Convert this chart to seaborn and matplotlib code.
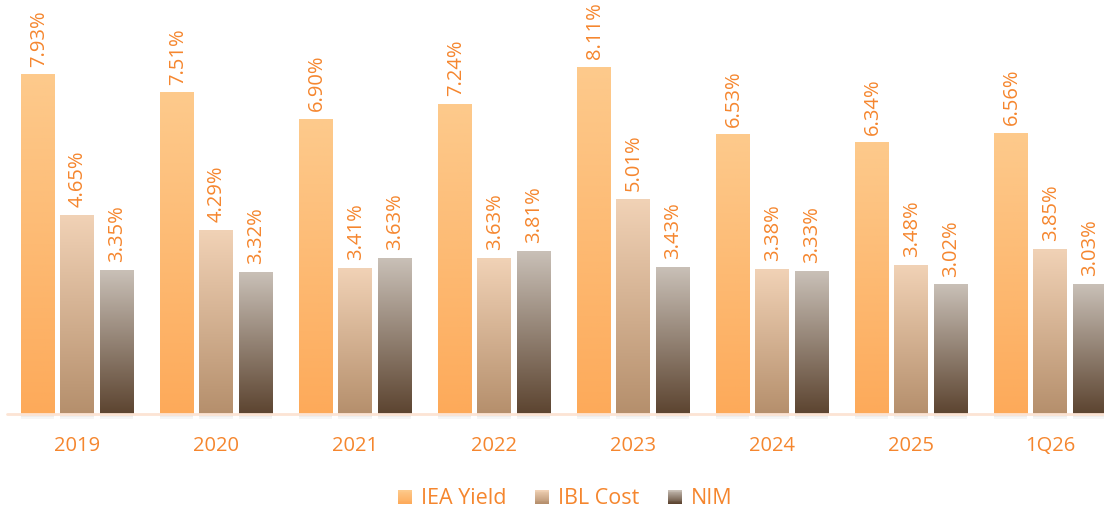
import numpy as np
import pandas as pd
import seaborn as sns
import matplotlib.pyplot as plt
import matplotlib.patches as patches
from matplotlib.colors import to_rgb
from matplotlib.legend_handler import HandlerBase

# Data
PERIODS = ["2019", "2020", "2021", "2022", "2023", "2024", "2025", "1Q26"]
SERIES = ["IEA Yield", "IBL Cost", "NIM"]
IEA_YIELD = [7.93, 7.51, 6.90, 7.24, 8.11, 6.53, 6.34, 6.56]
IBL_COST = [4.65, 4.29, 3.41, 3.63, 5.01, 3.38, 3.48, 3.85]
NIM = [3.35, 3.32, 3.63, 3.81, 3.43, 3.33, 3.02, 3.03]

# Style
TEXT_COLOR = "#F5862E"
GRADIENTS = {  # (top, bottom)
    "IEA Yield": ("#FDCA8C", "#FDAA5A"),
    "IBL Cost": ("#F1D2B6", "#B58F6C"),
    "NIM": ("#C9C0B7", "#5C4430"),
}
FONT = ["Open Sans", "DejaVu Sans"]
FS = 14.5

sns.set_theme(style="white")
plt.rcParams["font.family"] = FONT


def grad_array(top, bottom, n=256):
    t = np.linspace(0, 1, n)[:, None]
    b = np.array(to_rgb(bottom))
    tp = np.array(to_rgb(top))
    return (b + (tp - b) * t)[:, None, :]


class GradHandler(HandlerBase):
    def __init__(self, top, bottom):
        super().__init__()
        self.top, self.bottom = top, bottom

    def create_artists(self, legend, orig_handle, xdescent, ydescent,
                       width, height, fontsize, trans):
        n = 16
        arr = grad_array(self.top, self.bottom, n)
        out = []
        for i in range(n):
            r = patches.Rectangle((-xdescent, -ydescent + i * height / n), width,
                                  height / n * 1.05, facecolor=arr[i, 0],
                                  edgecolor="none", transform=trans)
            out.append(r)
        return out


df = pd.DataFrame({
    "period": PERIODS * 3,
    "series": sum([[s] * len(PERIODS) for s in SERIES], []),
    "value": IEA_YIELD + IBL_COST + NIM,
})

fig = plt.figure(figsize=(11.04, 5.09), dpi=100)
ax = fig.add_axes([0, 95 / 509, 1, 414 / 509])

sns.barplot(data=df, x="period", y="value", hue="series", hue_order=SERIES,
            order=PERIODS, width=0.842, gap=0.154, ax=ax, legend=False,
            errorbar=None)

# gradient fills + labels
for cont, name in zip(ax.containers, SERIES):
    top, bottom = GRADIENTS[name]
    arr = grad_array(top, bottom)
    for bar in cont:
        x0 = bar.get_x()
        w = bar.get_width()
        h = bar.get_height()
        bar.set_facecolor("none")
        bar.set_edgecolor("none")
        ax.imshow(arr, extent=[x0, x0 + w, 0, h], origin="lower",
                  aspect="auto", zorder=2)
        # soft shadow under the bar
        for k, a in enumerate([0.22, 0.14, 0.07]):
            ax.add_patch(patches.Rectangle((x0, -0.04 * (k + 1)), w, 0.04,
                                           facecolor="#8a8a8a", alpha=a,
                                           edgecolor="none", clip_on=False,
                                           zorder=1))
        ax.annotate(f"{h:.2f}%", (x0 + w / 2, h), xytext=(0.5, 6),
                    textcoords="offset points", rotation=90, ha="center",
                    va="bottom", color=TEXT_COLOR, fontsize=FS)

ax.set_xlim(-77 / 139, (1104 - 77) / 139)
ax.set_ylim(0, 414 / 42.75)

# baseline
ax.plot([-70 / 139, 8], [0, 0], color="#FCE4D4", lw=2, zorder=3,
        clip_on=False)

ax.set_xlabel("")
ax.set_ylabel("")
ax.set_yticks([])
ax.tick_params(axis="x", length=0, pad=16, labelsize=FS, labelcolor=TEXT_COLOR)
for s in ax.spines.values():
    s.set_visible(False)
ax.patch.set_alpha(0)

handles = [patches.Rectangle((0, 0), 1, 1) for _ in SERIES]
handler_map = {h: GradHandler(*GRADIENTS[n]) for h, n in zip(handles, SERIES)}
leg = fig.legend(handles, SERIES, handler_map=handler_map, loc="center",
                 bbox_to_anchor=(0.512, 1 - 499 / 509), ncol=3, frameon=False,
                 fontsize=15.5, handlelength=0.65, handleheight=0.65,
                 handletextpad=0.4, columnspacing=1.35)
for t in leg.get_texts():
    t.set_color(TEXT_COLOR)

fig.savefig("out.png", dpi=100)
